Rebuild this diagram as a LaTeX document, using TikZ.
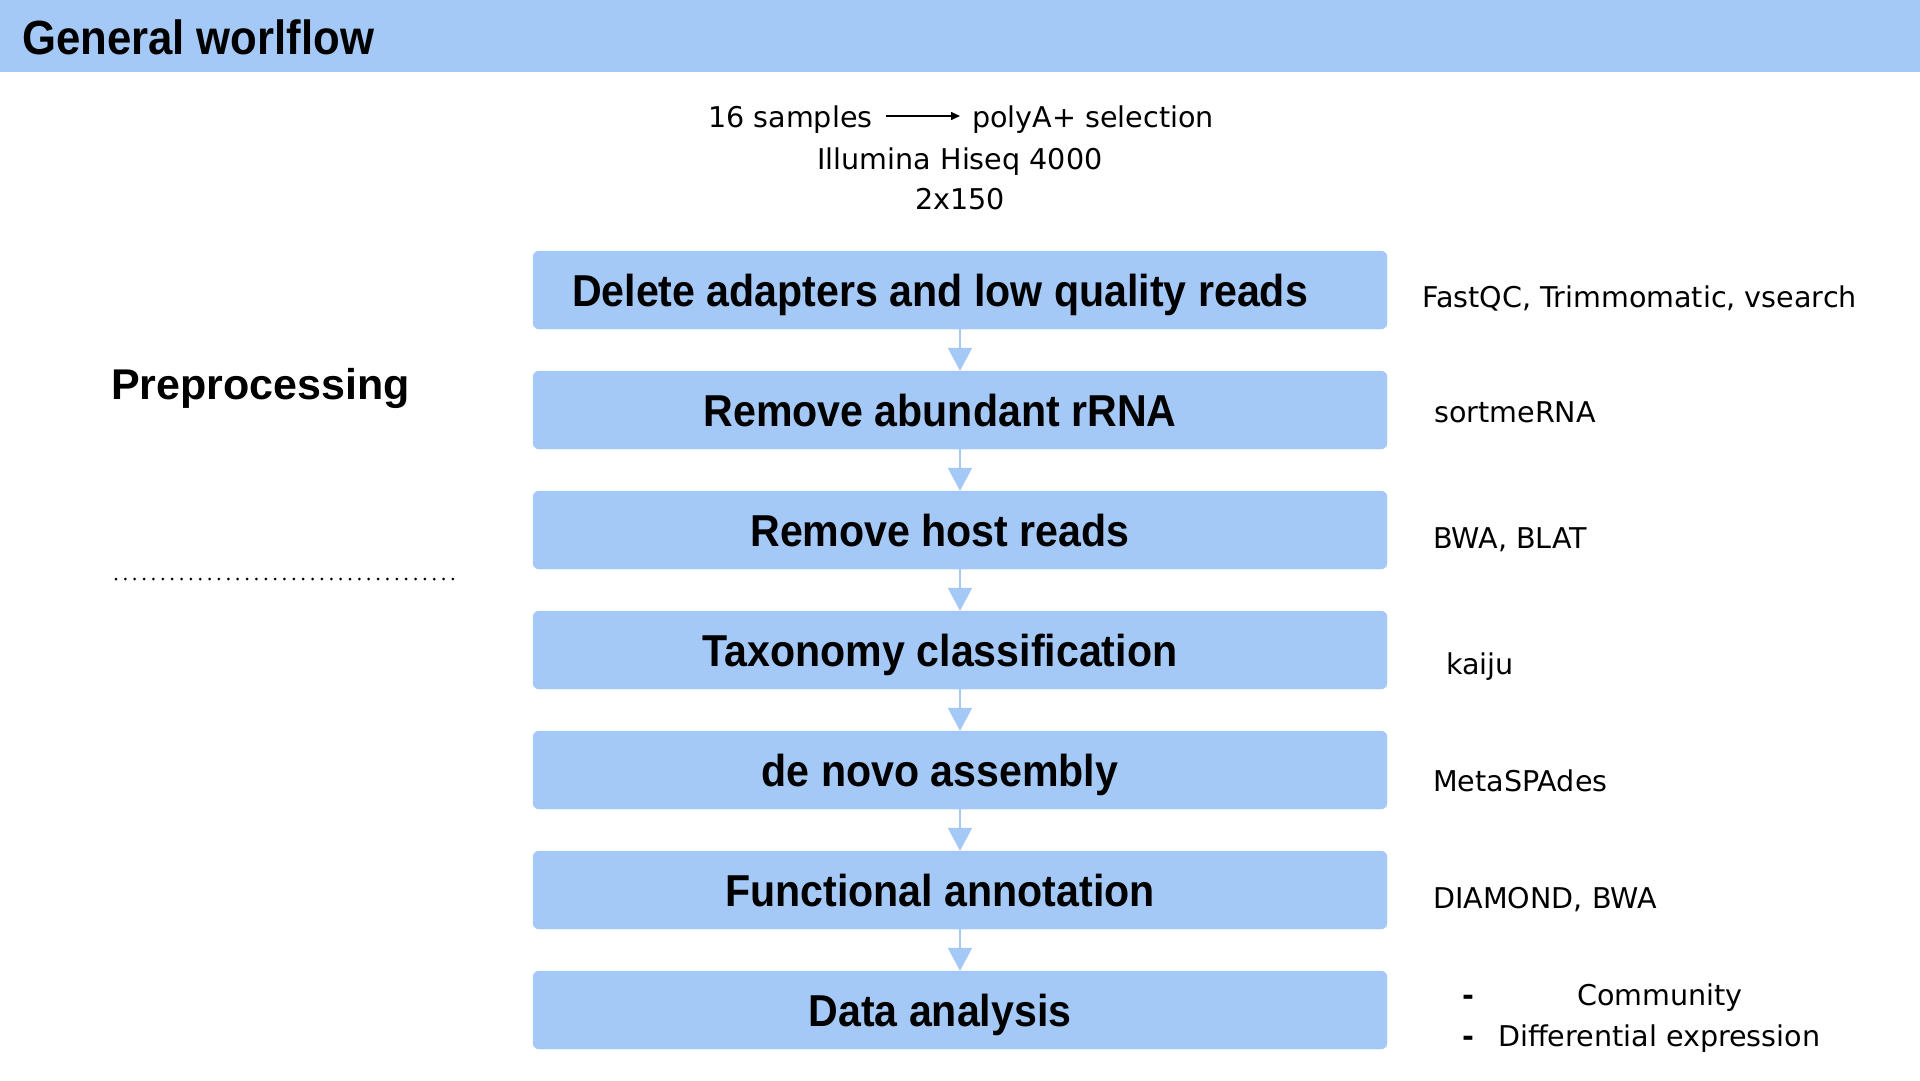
\documentclass[tikz,border=0pt]{standalone}
\usepackage{fontspec}
\setmainfont{DejaVu Sans}
\newfontfamily\stepfont[FakeStretch=0.92]{Liberation Sans}
\newfontfamily\headfont[FakeStretch=0.91]{Liberation Sans}
\newfontfamily\sidefont{Liberation Sans}
\usetikzlibrary{arrows.meta}
\definecolor{paleblue}{HTML}{A5C9F6}

\begin{document}
\begin{tikzpicture}[x=1pt,y=-1pt,
  stepbox/.style={fill=paleblue, draw=paleblue, rounded corners=6pt,
    minimum width=854pt, minimum height=78pt, inner sep=0pt},
  steptext/.style={anchor=base, inner sep=0pt,
    font=\stepfont\bfseries\fontsize{44.7pt}{50pt}\selectfont},
  tooltext/.style={anchor=base west, inner sep=0pt,
    font=\fontsize{28.6pt}{34pt}\selectfont},
  infotext/.style={anchor=base, inner sep=0pt,
    font=\fontsize{28.6pt}{34pt}\selectfont},
  flow/.style={draw=paleblue, line width=2.5pt,
    -{Triangle[width=24pt,length=23pt]}},
]
\useasboundingbox (0,0) rectangle (1920,1080);
\fill[white] (0,0) rectangle (1920,1080);

% title band
\fill[paleblue] (0,0) rectangle (1920,72);
\node[anchor=base west, inner sep=0pt,
  font=\headfont\bfseries\fontsize{48pt}{54pt}\selectfont] (title) at (22,54) {General worlflow};

% sequencing information
\node[tooltext] (samples) at (708,127) {16 samples};
\node[tooltext] (polya) at (972,127) {polyA+ selection};
\draw[line width=1.5pt, -{Triangle[length=9pt,width=8pt]}]
  ([xshift=13pt,yshift=11pt]samples.base east) -- ([xshift=-12pt,yshift=11pt]polya.base west);
\node[infotext] (hiseq) at (960,169) {Illumina Hiseq 4000};
\node[infotext] (length) at (960,209) {2x150};

% section label and separator
\node[anchor=base west, inner sep=0pt,
  font=\sidefont\bfseries\fontsize{43pt}{48pt}\selectfont] (prep) at (111,399) {Preprocessing};
\coordinate (sepL) at (116,579);
\coordinate (sepR) at (453,579);
\draw[line width=3pt, line cap=round, dash pattern=on 0pt off 9.36pt] (sepL) -- (sepR);

% workflow steps
\node[stepbox] (b1) at (960,290) {};
\node[stepbox] (b2) at (960,410) {};
\node[stepbox] (b3) at (960,530) {};
\node[stepbox] (b4) at (960,650) {};
\node[stepbox] (b5) at (960,770) {};
\node[stepbox] (b6) at (960,890) {};
\node[stepbox] (b7) at (960,1010) {};

\node[steptext] (t1) at (940,306) {Delete adapters and low quality reads};
\node[steptext] (t2) at (940,426) {Remove abundant rRNA};
\node[steptext] (t3) at (940,546) {Remove host reads};
\node[steptext] (t4) at (940,666) {Taxonomy classification};
\node[steptext] (t5) at (940,786) {de novo assembly};
\node[steptext] (t6) at (940,906) {Functional annotation};
\node[steptext] (t7) at (940,1026) {Data analysis};

\draw[flow] (b1.south) -- (b2.north);
\draw[flow] (b2.south) -- (b3.north);
\draw[flow] (b3.south) -- (b4.north);
\draw[flow] (b4.south) -- (b5.north);
\draw[flow] (b5.south) -- (b6.north);
\draw[flow] (b6.south) -- (b7.north);

% tools used at each step
\node[tooltext] (tool1) at (1422,307) {FastQC, Trimmomatic, vsearch};
\node[tooltext] (tool2) at (1434,422) {sortmeRNA};
\node[tooltext] (tool3) at (1433,548) {BWA, BLAT};
\node[tooltext] (tool4) at (1446,674) {kaiju};
\node[tooltext] (tool5) at (1433,791) {MetaSPAdes};
\node[tooltext] (tool6) at (1433,908) {DIAMOND, BWA};
\node[tooltext, font=\bfseries\fontsize{28.6pt}{34pt}\selectfont] (dash1) at (1462,1005) {-};
\node[tooltext] (tool7a) at (1577,1005) {Community};
\node[tooltext, font=\bfseries\fontsize{28.6pt}{34pt}\selectfont] (dash2) at (1462,1046) {-};
\node[tooltext] (tool7b) at (1498,1046) {Differential expression};
\end{tikzpicture}
\end{document}
